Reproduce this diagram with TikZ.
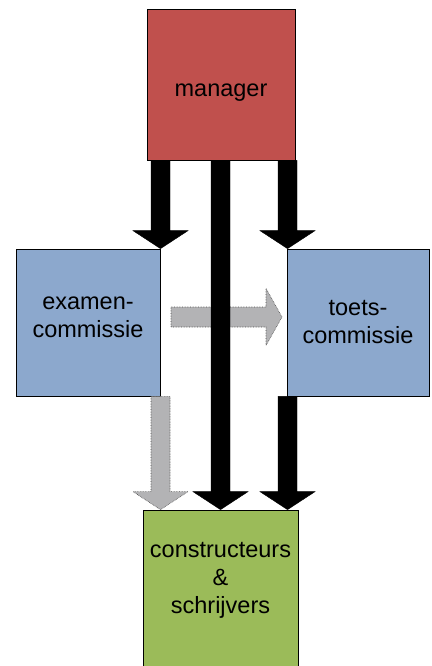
\documentclass[tikz,border=0pt]{standalone}
\usepackage{fontspec}
\setmainfont{Liberation Sans}
\usetikzlibrary{calc}
\definecolor{mred}{HTML}{C0504D}
\definecolor{mblue}{HTML}{8CA8CD}
\definecolor{mgreen}{HTML}{9BBB59}
\definecolor{mgray}{HTML}{B3B3B5}
% vertical block arrow: style, start (top centre), tip
\newcommand{\vblockarrow}[3]{%
  \filldraw[#1] ($(#2)+(-9.5,0)$) -- ($(#3)+(-9.5,-18)$) -- ($(#3)+(-27.5,-18)$) -- (#3)
    -- ($(#3)+(27.5,-18)$) -- ($(#3)+(9.5,-18)$) -- ($(#2)+(9.5,0)$) -- cycle;}
\begin{document}
\begin{tikzpicture}[x=1pt,y=-1pt,
  box/.style={draw=black, line width=0.7pt, inner sep=0pt, align=center,
    font=\fontsize{23.5}{27.8}\selectfont, text depth=0pt},
  blackarrow/.style={fill=black, draw=black, line width=0.4pt},
  grayarrow/.style={fill=mgray, draw=black!70, densely dotted, line width=0.6pt}]
\useasboundingbox (0,0) rectangle (431,666);
\fill[white] (0,0) rectangle (431,666);

\node[box, fill=mred, minimum width=148pt, minimum height=151pt, text height=24pt] (manager) at (221,84.5) {manager};
\node[box, fill=mblue, minimum width=144pt, minimum height=147pt, text height=29pt] (examen) at (88,322.5) {examen-\\commissie};
\node[box, fill=mblue, minimum width=142pt, minimum height=147pt, text height=41pt] (toets) at (358,322.5) {toets-\\commissie};
\node[box, fill=mgreen, minimum width=155pt, minimum height=160pt, text height=47pt] (constr) at (220.5,590) {constructeurs\\\&\\schrijvers};

% arrow anchor points
\coordinate (x1) at (160.5,0);
\coordinate (x2) at (220.5,0);
\coordinate (x3) at (287.5,0);
\coordinate (a1s) at (manager.south -| x1);
\coordinate (a1e) at (examen.north -| x1);
\coordinate (a2s) at (manager.south -| x2);
\coordinate (a2e) at (constr.north -| x2);
\coordinate (a3s) at (manager.south -| x3);
\coordinate (a3e) at (toets.north -| x3);
\coordinate (a4s) at (toets.south -| x3);
\coordinate (a4e) at (constr.north -| x3);
\coordinate (g1s) at (examen.south -| x1);
\coordinate (g1e) at (constr.north -| x1);
\coordinate (hs) at (171,317);
\coordinate (he) at (282,317);

% horizontal gray arrow (behind middle black arrow)
\filldraw[grayarrow] ($(hs)+(0,-10)$) -- ($(he)+(-16,-10)$) -- ($(he)+(-16,-28.5)$) -- (he)
  -- ($(he)+(-16,28.5)$) -- ($(he)+(-16,10)$) -- ($(hs)+(0,10)$) -- cycle;

\vblockarrow{grayarrow}{g1s}{g1e}
\vblockarrow{blackarrow}{a1s}{a1e}
\vblockarrow{blackarrow}{a2s}{a2e}
\vblockarrow{blackarrow}{a3s}{a3e}
\vblockarrow{blackarrow}{a4s}{a4e}
\end{tikzpicture}
\end{document}
